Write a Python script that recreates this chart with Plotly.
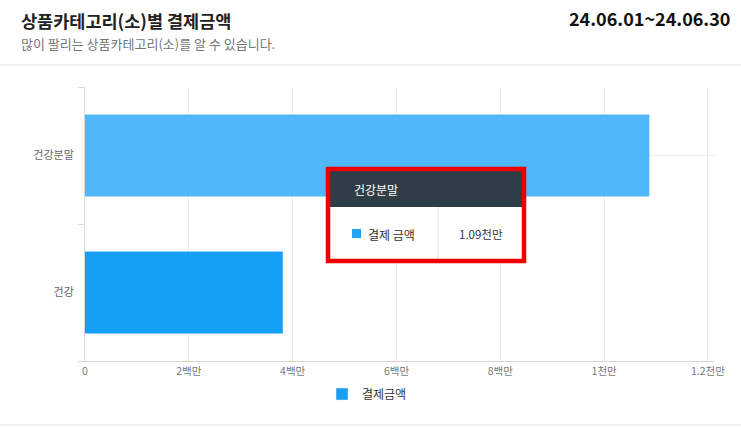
import plotly.graph_objects as go

# data
categories = ["건강", "건강분말"]
amounts = [3810000, 10870000]
bar_colors = ["#159ff5", "#4fb7fa"]
tick_vals = [0, 2000000, 4000000, 6000000, 8000000, 10000000, 12000000]
tick_text = ["0", "2백만", "4백만", "6백만", "8백만", "1천만", "1.2천만"]
series_name = "결제금액"
title = "상품카테고리(소)별 결제금액"
subtitle = "많이 팔리는 상품카테고리(소)를 알 수 있습니다."
date_range = "24.06.01~24.06.30"
hover_cat = "건강분말"

W, H = 741, 427
ML, MR, MT, MB = 85, 26, 87, 66
PW, PH = W - ML - MR, H - MT - MB

def px(x):
    return (x - ML) / PW

def py(y):
    return (H - MB - y) / PH

FONT = "Noto Sans CJK KR"

fig = go.Figure()
fig.add_trace(go.Bar(
    y=categories, x=amounts, orientation="h", name=series_name,
    marker=dict(color=bar_colors, line=dict(width=0)),
    showlegend=False, hoverinfo="skip",
))
# legend entry
fig.add_trace(go.Bar(
    y=[None], x=[None], orientation="h", name=series_name,
    marker=dict(color="#1a9ff0"), showlegend=True,
))

shapes = []
annotations = []

# header
annotations.append(dict(xref="paper", yref="paper", x=px(19), y=py(20), xanchor="left", yanchor="middle",
                        text="<b>" + title + "</b>", showarrow=False,
                        font=dict(family=FONT, size=17.5, color="#222")))
annotations.append(dict(xref="paper", yref="paper", x=px(19), y=py(44), xanchor="left", yanchor="middle",
                        text=subtitle, showarrow=False,
                        font=dict(family=FONT, size=13, color="#777")))
annotations.append(dict(xref="paper", yref="paper", x=px(732), y=py(18), xanchor="right", yanchor="middle",
                        text="<b>" + date_range + "</b>", showarrow=False,
                        font=dict(family=FONT, size=18, color="#111")))
shapes.append(dict(type="line", xref="paper", yref="paper", x0=px(0), x1=px(W), y0=py(65), y1=py(65),
                   line=dict(color="#e3e3e3", width=1)))
shapes.append(dict(type="line", xref="paper", yref="paper", x0=px(0), x1=px(W), y0=py(425), y1=py(425),
                   line=dict(color="#e3e3e3", width=1)))

# crosshair line on hovered category
hi = categories.index(hover_cat)
shapes.append(dict(type="line", xref="paper", yref="y", x0=0, x1=1, y0=hi, y1=hi, layer="below",
                   line=dict(color="#ececec", width=1)))

# tooltip
val = amounts[hi]
shapes.append(dict(type="rect", xref="paper", yref="paper", x0=px(328), x1=px(524), y0=py(169), y1=py(261),
                   fillcolor="white", line=dict(width=0)))
shapes.append(dict(type="rect", xref="paper", yref="paper", x0=px(328), x1=px(524), y0=py(169), y1=py(207),
                   fillcolor="#2f3e46", line=dict(width=0)))
shapes.append(dict(type="line", xref="paper", yref="paper", x0=px(438), x1=px(438), y0=py(207), y1=py(261),
                   line=dict(color="#e2e2e2", width=1)))
shapes.append(dict(type="rect", xref="paper", yref="paper", x0=px(352), x1=px(361), y0=py(229), y1=py(238),
                   fillcolor="#20a4f3", line=dict(width=0)))
shapes.append(dict(type="rect", xref="paper", yref="paper", x0=px(328), x1=px(524), y0=py(169), y1=py(261),
                   fillcolor="rgba(0,0,0,0)", line=dict(color="#ee0000", width=4.5)))
annotations.append(dict(xref="paper", yref="paper", x=px(352), y=py(189), xanchor="left", yanchor="middle",
                        text=hover_cat, showarrow=False, font=dict(family=FONT, size=12, color="white")))
annotations.append(dict(xref="paper", yref="paper", x=px(366), y=py(234), xanchor="left", yanchor="middle",
                        text="결제 금액", showarrow=False, font=dict(family=FONT, size=12, color="#333")))
annotations.append(dict(xref="paper", yref="paper", x=px(481), y=py(234), xanchor="center", yanchor="middle",
                        text=f"{val / 1e7:.2f}천만", showarrow=False, font=dict(family=FONT, size=11.5, color="#333")))

fig.update_layout(
    width=W, height=H,
    margin=dict(l=ML, r=MR, t=MT, b=MB),
    plot_bgcolor="white", paper_bgcolor="white",
    font=dict(family=FONT, size=11, color="#666"),
    bargap=0.4,
    xaxis=dict(range=[0, 12135000], tickvals=tick_vals, ticktext=tick_text,
               showgrid=True, gridcolor="#ebebeb", gridwidth=1, zeroline=False,
               showline=True, linecolor="#d9d9d9", ticks="", ticklen=0,
               tickfont=dict(size=10.5, color="#777"), fixedrange=True),
    yaxis=dict(type="category", categoryorder="array", categoryarray=categories,
               showgrid=False, zeroline=False, showline=True, linecolor="#d9d9d9",
               ticks="outside", tickson="boundaries", ticklen=6, tickcolor="#d9d9d9",
               tickfont=dict(size=11, color="#666"), ticklabelstandoff=8),
    legend=dict(orientation="h", x=px(367), xanchor="center", y=py(394), yanchor="middle",
                font=dict(size=12, color="#333"), itemwidth=30),
    shapes=shapes, annotations=annotations,
)

# page body has a default margin; remove it so the figure starts at the corner
fig.write_html("out.html", config={"displayModeBar": False},
               post_script="document.body.style.margin='0';")
